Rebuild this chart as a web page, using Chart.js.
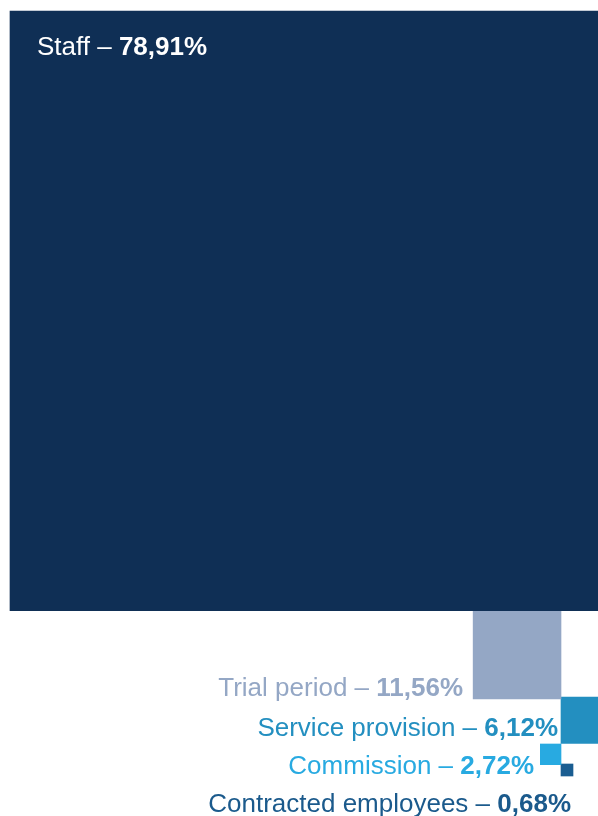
<!DOCTYPE html>
<html>
<head>
<meta charset="utf-8">
<script src="https://cdn.jsdelivr.net/npm/chart.js@4/dist/chart.umd.min.js"></script>
<style>
  html, body { margin: 0; padding: 0; background: #ffffff; }
  #wrap { width: 598px; height: 816px; position: relative; }
</style>
</head>
<body>
<div id="wrap"><canvas id="squares"></canvas></div>
<script>
// DATA
const categories = ['Staff', 'Trial period', 'Service provision', 'Commission', 'Contracted employees'];
const shares = [78.91, 11.56, 6.12, 2.72, 0.68];

// styles
const colors = ['#0f2f55', '#94a7c5', '#238fc0', '#28aae1', '#1a5d91'];
const textColors = ['#ffffff', '#94a7c5', '#238fc0', '#28aae1', '#1b5a8c'];

// layout (canvas pixels): square anchor edge + top, label anchor
const PX_PER_PCT = 7.6;
const MIN_SIDE = 12;
const squareAnchor = [
    { edge: 'left', x: 10, top: 11 },
    { edge: 'right', x: 561, top: 611 },
    { edge: 'left', x: 561, top: 697 },
    { edge: 'right', x: 561, top: 744 },
    { edge: 'left', x: 561, top: 764 }
];
const labelAnchor = [
    { align: 'left', x: 37, y: 55 },
    { align: 'right', x: 463, y: 696 },
    { align: 'right', x: 558, y: 736 },
    { align: 'right', x: 534, y: 774 },
    { align: 'right', x: 571, y: 812 }
];

const FONT = '"Liberation Sans", Arial, sans-serif';
const FONT_SIZE = 26;

function fmt(v) {
    return v.toFixed(2).replace('.', ',') + '%';
}

let datasets = [];
for (let i = 0; i < shares.length; i++) {
    let side = Math.max(shares[i] * PX_PER_PCT, MIN_SIDE);
    let a = squareAnchor[i];
    let left = a.edge === 'left' ? a.x : a.x - side;
    datasets.push({
        label: categories[i],
        data: [{ x: left + side / 2, y: [a.top, a.top + side] }],
        backgroundColor: colors[i],
        borderWidth: 0,
        barThickness: side,
        grouped: false
    });
}

const labelPlugin = {
    id: 'squareLabels',
    afterDatasetsDraw(chart) {
        let ctx = chart.ctx;
        let xs = chart.scales.x, ys = chart.scales.y;
        ctx.save();
        ctx.textBaseline = 'alphabetic';
        for (let i = 0; i < categories.length; i++) {
            let la = labelAnchor[i];
            let px = xs.getPixelForValue(la.x);
            let py = ys.getPixelForValue(la.y);
            let head = categories[i] + ' \u2013 ';
            let tail = fmt(shares[i]);
            ctx.fillStyle = textColors[i];
            ctx.font = 'bold ' + FONT_SIZE + 'px ' + FONT;
            let tailW = ctx.measureText(tail).width;
            ctx.font = FONT_SIZE + 'px ' + FONT;
            let headW = ctx.measureText(head).width;
            let start = la.align === 'left' ? px : px - headW - tailW;
            ctx.textAlign = 'left';
            ctx.fillText(head, start, py);
            ctx.font = 'bold ' + FONT_SIZE + 'px ' + FONT;
            ctx.fillText(tail, start + headW, py);
        }
        ctx.restore();
    }
};

let squaresCtx = document.getElementById('squares').getContext('2d');
let squaresChart = new Chart(squaresCtx, {
    type: 'bar',
    data: { datasets: datasets },
    options: {
        responsive: true,
        maintainAspectRatio: false,
        animation: false,
        events: [],
        layout: { padding: 0 },
        plugins: { legend: { display: false }, tooltip: { enabled: false } },
        scales: {
            x: { type: 'linear', min: 0, max: 598, offset: false, display: false },
            y: { type: 'linear', min: 0, max: 816, reverse: true, offset: false, display: false }
        }
    },
    plugins: [labelPlugin]
});
</script>
</body>
</html>
